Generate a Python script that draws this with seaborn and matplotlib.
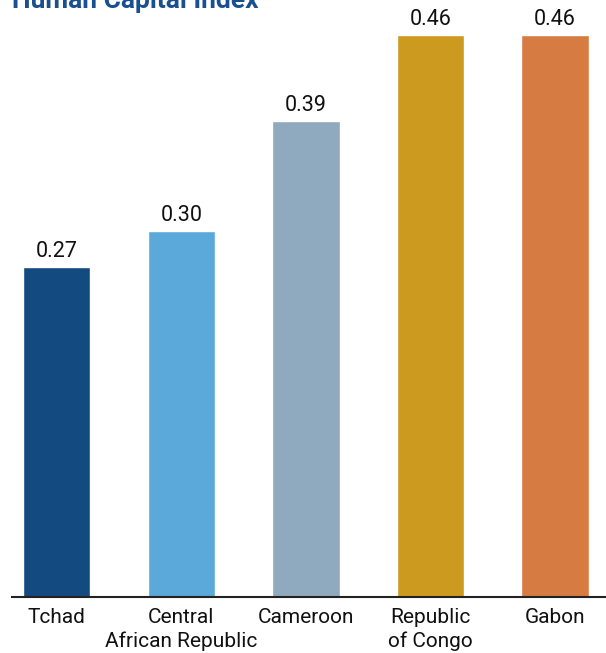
import matplotlib
matplotlib.use("Agg")
import matplotlib.pyplot as plt
import seaborn as sns
import pandas as pd

# data
countries = ["Tchad", "Central\nAfrican Republic", "Cameroon", "Republic\nof Congo", "Gabon"]
hci = [0.27, 0.30, 0.39, 0.46, 0.46]
colors = ["#134b80", "#5ba8da", "#8faabe", "#cc9a1e", "#d67c43"]

df = pd.DataFrame({"country": countries, "hci": hci})

sns.set_style("white")
plt.rcParams["font.family"] = ["Roboto", "DejaVu Sans"]

fig = plt.figure(figsize=(6.06, 6.53), dpi=100)
ax = fig.add_axes([12 / 606, 56 / 653, 1 - 12 / 606, 1 - 56 / 653])

sns.barplot(data=df, x="country", y="hci", hue="country", palette=colors,
            width=0.54, legend=False, saturation=1, ax=ax)

for i, v in enumerate(hci):
    ax.text(i, v + 0.004, f"{v:.2f}", ha="center", va="bottom", fontsize=15.5, color="#111111")

ax.set_xlim(-0.36, 4.41)
ax.set_ylim(0, 0.4887)
ax.set_xlabel("")
ax.set_ylabel("")
ax.set_yticks([])
ax.tick_params(axis="x", length=0, pad=8, labelsize=15, labelcolor="#111111")
for lbl in ax.get_xticklabels():
    lbl.set_linespacing(1.3)
for s in ["top", "right", "left"]:
    ax.spines[s].set_visible(False)
ax.spines["bottom"].set_color("#222222")
ax.spines["bottom"].set_linewidth(1.5)

fig.text(12 / 606, 1 - 8 / 653, "Human Capital Index", ha="left", va="baseline",
         fontsize=19, fontweight="bold", color="#1a5090")

fig.savefig("out.png", dpi=100)
